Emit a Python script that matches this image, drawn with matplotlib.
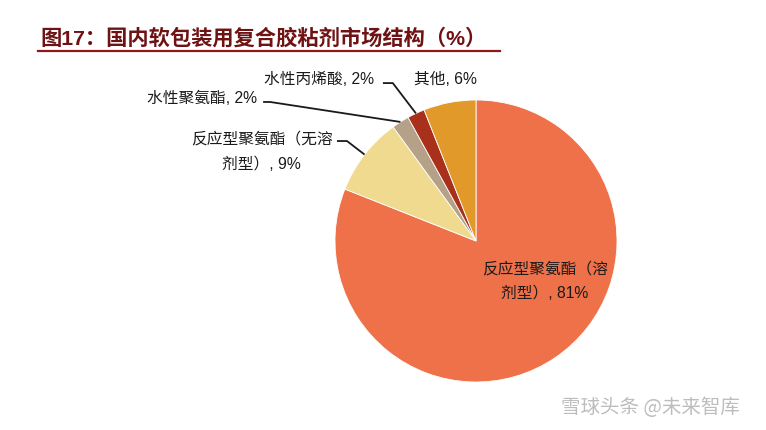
import matplotlib
matplotlib.use("Agg")
import matplotlib.pyplot as plt
import numpy as np

plt.rcParams['font.family'] = ['Liberation Sans', 'Noto Sans CJK SC', 'DejaVu Sans']

labels = ['反应型聚氨酯（溶\n剂型）, 81%', '反应型聚氨酯（无溶\n剂型）, 9%',
          '水性聚氨酯, 2%', '水性丙烯酸, 2%', '其他, 6%']
values = [81, 9, 2, 2, 6]
colors = ['#EE714A', '#F0DA8F', '#B5A187', '#A9301A', '#E19A29']
title = '图17：国内软包装用复合胶粘剂市场结构（%）'

W, H = 766, 431
fig = plt.figure(figsize=(W / 100, H / 100), dpi=100)
ax = fig.add_axes([0, 0, 1, 1])
wedges, _ = ax.pie(values, colors=colors, startangle=90, counterclock=False,
                   radius=1.0, wedgeprops=dict(edgecolor='white', linewidth=0.6))
ax.set_aspect('auto')
R = 141.0
cx, cy = 476, 242
ax.set_xlim(-cx / R, (W - cx) / R)
ax.set_ylim(-(H - cy) / R, cy / R)
ax.axis('off')

# mid angles from data
fr = np.array(values) / sum(values)
ends = 90 - 360 * np.cumsum(fr)
starts = ends + 360 * fr
mids = np.deg2rad((starts + ends) / 2)

fs = 11.3
ax.text(0.49, -0.28, labels[0], ha='center', va='center', fontsize=fs,
        color='#1a1a1a', linespacing=1.75)
ax.text(-1.52, 0.64, labels[1], ha='center', va='center', fontsize=fs,
        color='#1a1a1a', linespacing=1.75)
ax.text(-1.94, 1.02, labels[2], ha='center', va='center', fontsize=fs, color='#1a1a1a')
ax.text(-1.11, 1.15, labels[3], ha='center', va='center', fontsize=fs, color='#1a1a1a')
ax.text(-0.22, 1.15, labels[4], ha='center', va='center', fontsize=fs, color='#1a1a1a')

# leader lines: (label end x, elbow x, elbow y)
leaders = {1: (-0.986, -0.915, 0.709), 2: (-1.51, -1.46, 0.986), 3: (-0.66, -0.59, 1.12)}
for i, (x0, x1, y1) in leaders.items():
    ex, ey = np.cos(mids[i]), np.sin(mids[i])
    ax.plot([x0, x1, ex], [y1, y1, ey], color='#1a1a1a', lw=1.3,
            solid_capstyle='butt')

# title
fig.text(40 / W, 1 - 38 / H, title, ha='left', va='center', fontsize=15.3,
         fontweight='bold', color='#6E1214',
         family=['Liberation Sans', 'Noto Sans CJK SC'])
fig.add_artist(plt.Line2D([38 / W, 500 / W], [1 - 52 / H, 1 - 52 / H],
                          color='#8B1A1A', lw=1.6))

# watermark
fig.text(650 / W, 1 - 408 / H, '雪球头条 @未来智库', ha='center', va='center',
         fontsize=14, color='#bdbdbd', family=['Noto Sans CJK SC'])

fig.savefig('out.png', dpi=100)
